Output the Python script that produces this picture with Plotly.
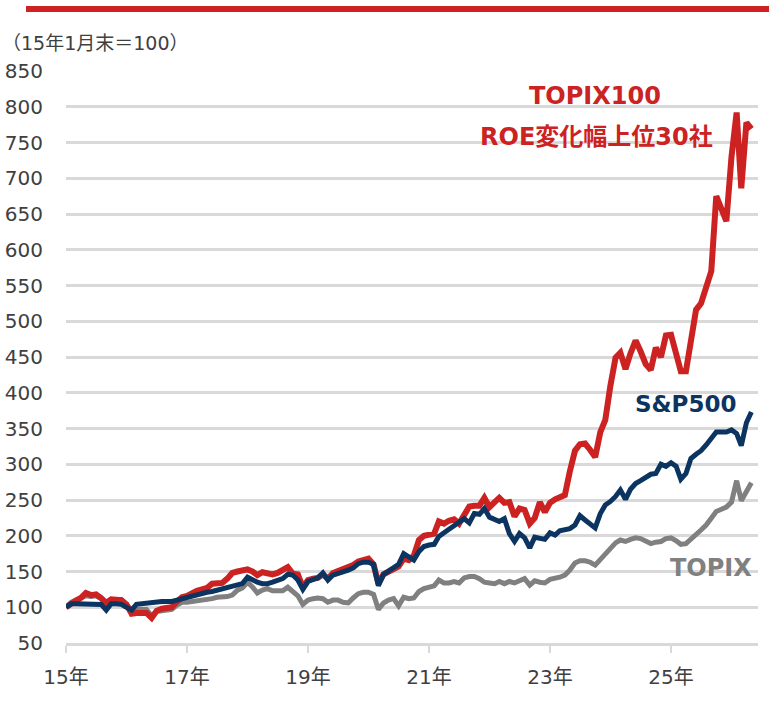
import pandas as pd
import plotly.graph_objects as go

months = pd.date_range("2015-01-01", "2026-05-01", freq="MS")

roe_top30 = [
    100, 106, 109, 113, 120, 117, 118, 113, 106, 111, 111, 110,
    104, 91, 92, 93, 92, 85, 95, 98, 99, 100, 108, 114,
    116, 121, 123, 125, 127, 133, 134, 134, 140, 148, 150, 152,
    153, 150, 145, 149, 147, 146, 148, 151, 156, 147, 146, 128,
    138, 140, 141, 146, 140, 148, 151, 152, 155, 159, 164, 167,
    168, 160, 133, 146, 150, 154, 157, 168, 166, 172, 194, 200,
    201, 203, 220, 217, 221, 223, 217, 230, 241, 242, 242, 253,
    240, 247, 253, 246, 247, 227, 238, 236, 217, 225, 247, 233,
    246, 251, 254, 257, 290, 319, 328, 329, 320, 310, 345, 362,
    410, 449, 456, 433, 455, 473, 458, 440, 432, 463, 450, 480,
    481, 455, 430, 430, 475, 516, 525, 545, 570, 675, 655, 640,
    730, 792, 686, 778, 769,
]

sp500 = [
    100, 105, 105, 105, 105, 105, 105, 104, 96, 105, 105, 104,
    100, 96, 104, 105, 106, 107, 108, 108, 108, 108, 110, 112,
    113, 116, 118, 119, 121, 122, 124, 125, 127, 129, 131, 133,
    142, 138, 135, 133, 133, 135, 137, 140, 146, 145, 138, 125,
    136, 139, 141, 148, 138, 145, 147, 149, 152, 155, 161, 163,
    163, 160, 130, 146, 150, 154, 160, 175, 170, 166, 178, 185,
    187, 188, 199, 205, 209, 214, 219, 224, 218, 231, 230, 238,
    226, 222, 220, 224, 203, 192, 203, 197, 183, 198, 196, 195,
    204, 201, 207, 209, 210, 215, 228, 222, 216, 211, 231, 243,
    248, 255, 264, 251, 265, 273, 277, 282, 286, 287, 300, 297,
    302, 297, 279, 287, 308, 314, 319, 327, 336, 345, 345, 345,
    348, 343, 326, 358, 373,
]

topix = [
    100, 107, 110, 113, 116, 115, 116, 112, 103, 111, 111, 111,
    104, 96, 97, 97, 97, 88, 94, 95, 96, 97, 103, 107,
    107, 108, 108, 109, 110, 112, 114, 114, 115, 117, 124, 127,
    135, 128, 120, 124, 126, 123, 123, 123, 128, 122, 116, 104,
    110, 112, 113, 112, 107, 110, 110, 107, 106, 113, 119, 121,
    121, 118, 97, 106, 110, 112, 102, 114, 112, 113, 122, 126,
    128, 130, 138, 134, 134, 136, 134, 141, 143, 143, 140, 135,
    134, 133, 136, 133, 136, 134, 137, 140, 131, 137, 135, 134,
    139, 140, 142, 145, 152, 162, 165, 165, 163, 159, 167, 173,
    181, 190, 194, 192, 195, 197, 196, 192, 189, 191, 192, 196,
    197, 193, 188, 189, 196, 202, 208, 215, 225, 234, 237, 240,
    247, 277, 249, 262, 274,
]

y_ticks = list(range(50, 851, 50))
x_tick_dates = ["2015-01-01", "2017-01-01", "2019-01-01", "2021-01-01", "2023-01-01", "2025-01-01"]
x_tick_labels = ["15年", "17年", "19年", "21年", "23年", "25年"]

RED = "#cc2222"
NAVY = "#0b3461"
GRAY = "#808080"
GRID = "#d9d9d9"
TEXT = "#404040"
FONT = "DejaVu Sans, Noto Sans CJK JP, sans-serif"

L, R, T, B = 66, 11, 71, 60
PW, PH = 769 - L - R, 703 - T - B


def px(x):
    return (x - L) / PW


def py(y):
    return (703 - B - y) / PH


fig = go.Figure()
fig.add_trace(go.Scatter(x=months, y=topix, mode="lines", name="TOPIX",
                         line=dict(color=GRAY, width=5), cliponaxis=False))
fig.add_trace(go.Scatter(x=months, y=roe_top30, mode="lines", name="TOPIX100 ROE変化幅上位30社",
                         line=dict(color=RED, width=6), cliponaxis=False))
fig.add_trace(go.Scatter(x=months, y=sp500, mode="lines", name="S&P500",
                         line=dict(color=NAVY, width=5), cliponaxis=False))

fig.update_layout(
    width=769, height=703,
    autosize=False,
    margin=dict(l=L, r=R, t=T, b=B, pad=0, autoexpand=False),
    paper_bgcolor="white", plot_bgcolor="white",
    showlegend=False,
    font=dict(family=FONT, size=20, color=TEXT),
    xaxis=dict(
        type="date", automargin=False,
        range=["2015-01-01", "2026-06-10"],
        tickvals=x_tick_dates, ticktext=x_tick_labels,
        showgrid=False, zeroline=False,
        showline=True, linecolor=GRID, linewidth=3,
        ticks="outside", ticklen=7, tickwidth=2, tickcolor=GRID,
        ticklabelstandoff=7,
        tickfont=dict(size=20, color=TEXT, family=FONT),
    ),
    yaxis=dict(
        range=[50, 850], automargin=False,
        tickvals=y_ticks,
        showgrid=True, gridcolor=GRID, gridwidth=3,
        zeroline=False, showline=False,
        ticks="outside", ticklen=18, tickcolor="rgba(0,0,0,0)",
        tickfont=dict(size=20, color=TEXT, family=FONT),
    ),
    shapes=[dict(type="rect", xref="paper", yref="paper",
                 x0=px(26), x1=px(775), y0=py(12), y1=py(6),
                 fillcolor=RED, line=dict(width=0), layer="above")],
    annotations=[
        dict(text="（15年1月末＝100）", xref="paper", yref="paper",
             x=px(0), y=py(43), xanchor="left", yanchor="middle",
             showarrow=False, font=dict(size=19, color=TEXT, family=FONT)),
        dict(text="<b>TOPIX100</b>", xref="paper", yref="paper",
             x=px(595), y=py(96), xanchor="center", yanchor="middle",
             showarrow=False, font=dict(size=24, color=RED, family=FONT)),
        dict(text="<b>ROE変化幅上位30社</b>", xref="paper", yref="paper",
             x=px(596), y=py(137), xanchor="center", yanchor="middle",
             showarrow=False, font=dict(size=24, color=RED, family=FONT)),
        dict(text="<b>S&P500</b>", xref="paper", yref="paper",
             x=px(686), y=py(404), xanchor="center", yanchor="middle",
             showarrow=False, font=dict(size=23, color=NAVY, family=FONT)),
        dict(text="<b>TOPIX</b>", xref="paper", yref="paper",
             x=px(711), y=py(568), xanchor="center", yanchor="middle",
             showarrow=False, font=dict(size=24, color=GRAY, family=FONT)),
    ],
)

fig.write_html("out.html",
               config={"displayModeBar": False},
               post_script="document.body.style.margin='0px';document.body.style.overflow='hidden';")
